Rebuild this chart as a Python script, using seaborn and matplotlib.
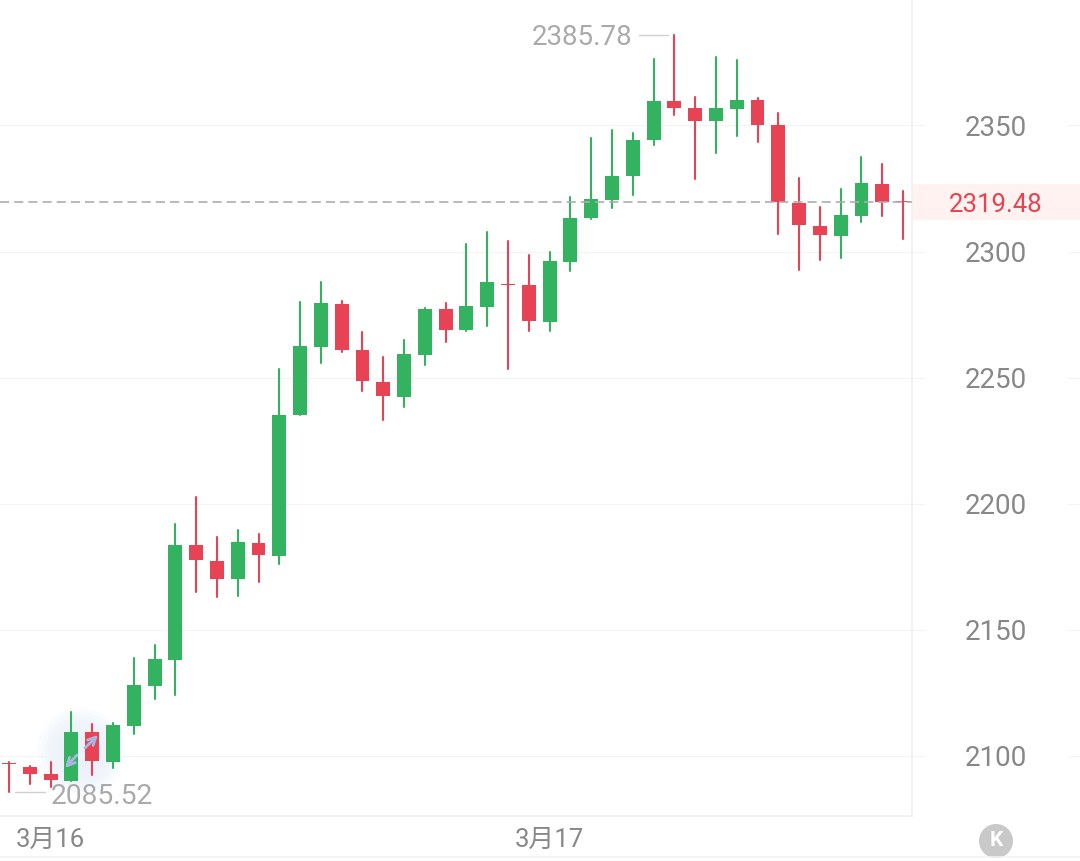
import pandas as pd
import matplotlib.pyplot as plt
import seaborn as sns
from matplotlib.lines import Line2D
from matplotlib.patches import Rectangle, Circle
from matplotlib.transforms import blended_transform_factory

# values
opens = [2097.0, 2095.4, 2092.7, 2089.9, 2109.3, 2097.4, 2111.7, 2127.6, 2137.9, 2183.5, 2177.2,
         2170.0, 2184.3, 2179.2, 2235.1, 2262.1, 2279.2, 2260.9, 2248.2, 2242.3, 2258.9, 2277.2,
         2268.9, 2278.0, 2287.1, 2286.7, 2272.0, 2295.8, 2313.3, 2320.4, 2330.0, 2344.2, 2359.7,
         2356.9, 2351.8, 2356.5, 2360.1, 2350.2, 2319.2, 2310.1, 2306.2, 2314.1, 2326.8, 2319.9]
closes = [2096.6, 2092.7, 2090.3, 2109.3, 2097.8, 2112.1, 2128.0, 2138.3, 2183.5, 2177.6, 2170.0,
          2184.7, 2179.6, 2235.1, 2262.5, 2279.6, 2260.9, 2248.6, 2242.7, 2259.3, 2277.2, 2268.9,
          2278.4, 2287.9, 2286.7, 2272.4, 2296.2, 2313.3, 2320.8, 2330.0, 2344.2, 2359.7, 2356.9,
          2351.8, 2356.9, 2360.1, 2350.2, 2319.6, 2310.5, 2306.6, 2314.5, 2327.2, 2319.6, 2319.48]
highs = [2097.4, 2095.8, 2097.4, 2117.3, 2112.5, 2112.9, 2138.7, 2143.9, 2191.9, 2202.6, 2186.7,
         2189.5, 2187.9, 2253.4, 2280.0, 2287.9, 2280.4, 2268.1, 2258.1, 2264.9, 2277.6, 2279.6,
         2303.0, 2307.7, 2304.2, 2298.6, 2299.8, 2321.6, 2345.0, 2348.2, 2347.0, 2376.4, 2385.78,
         2361.3, 2377.2, 2376.0, 2360.9, 2355.0, 2329.2, 2317.7, 2324.8, 2337.5, 2334.7, 2324.0]
lows = [2085.52, 2088.7, 2087.5, 2089.9, 2092.3, 2095.0, 2108.5, 2122.4, 2124.0, 2164.9, 2162.9,
        2163.3, 2168.9, 2176.0, 2235.1, 2255.8, 2260.1, 2244.6, 2233.1, 2238.3, 2255.0, 2264.1,
        2268.5, 2270.4, 2253.4, 2268.5, 2268.5, 2292.3, 2312.9, 2317.3, 2322.4, 2342.3, 2354.2,
        2328.8, 2339.1, 2345.8, 2343.5, 2306.9, 2292.7, 2296.6, 2297.4, 2311.7, 2314.1, 2305.0]
y_ticks = [2100, 2150, 2200, 2250, 2300, 2350]
date_ticks = [2, 26]
date_labels = ['3月16', '3月17']
last_price = 2319.48
high_label = '2385.78'
low_label = '2085.52'

GREEN = '#33b35f'
RED = '#e84355'
W, H = 1080, 861

df = pd.DataFrame({'idx': range(len(opens)), 'open': opens, 'close': closes,
                   'high': highs, 'low': lows})
df['dir'] = ['up' if c > o else 'down' for o, c in zip(df['open'], df['close'])]
df['body'] = (df['close'] - df['open']).abs()
df['bottom'] = df[['open', 'close']].min(axis=1)
wicks = df.melt(id_vars=['idx', 'dir'], value_vars=['low', 'high'], value_name='price')

sns.set_theme(style='white')
plt.rcParams['font.family'] = ['Roboto', 'Noto Sans CJK SC', 'DejaVu Sans']

fig = plt.figure(figsize=(W / 100, H / 100), dpi=100)
ax = fig.add_axes([0, 1 - 816 / H, 912 / W, 816 / H])

# grid lines run under the price column, with a gap behind the labels
tr = blended_transform_factory(fig.transFigure, ax.transData)
for t in y_ticks:
    for x0, x1 in [(0, 924), (1068, 1080)]:
        fig.add_artist(Line2D([x0 / W, x1 / W], [t, t], transform=tr, color='#f3f3f3', lw=0.8, zorder=0))

# current price band
fig.add_artist(Rectangle((912 / W, 1 - 220 / H), 168 / W, 36 / H, transform=fig.transFigure,
                         color='#fff2f1', lw=0, zorder=0))

sns.lineplot(data=wicks, x='idx', y='price', units='idx', estimator=None, hue='dir',
             palette={'up': GREEN, 'down': RED}, legend=False, linewidth=1.5, ax=ax, zorder=2)

for d, col in [('up', GREEN), ('down', RED)]:
    part = df[df['dir'] == d]
    sns.barplot(x=part['idx'], y=part['body'].values, bottom=part['bottom'].values, native_scale=True,
                color=col, saturation=1, width=0.67, linewidth=0, ax=ax, zorder=3)

ax.axhline(last_price, color='#aeaeae', lw=1.2, dashes=(5.5, 3), zorder=4)

ax.set_xlim(-0.433, 43.43)
ax.set_ylim(2076.0, 2399.8)
ax.set_xlabel('')
ax.set_ylabel('')
ax.patch.set_alpha(0)
ax.set_xticks(date_ticks)
ax.set_xticklabels(date_labels, fontsize=18.5, color='#888888')
ax.yaxis.tick_right()
ax.set_yticks(y_ticks)
ax.set_yticklabels(y_ticks, fontsize=20, color='#888888', ha='center')
ax.tick_params(axis='x', length=0, pad=8.5)
ax.tick_params(axis='y', length=0, pad=60.5)
for s in ['top', 'left']:
    ax.spines[s].set_visible(False)
for s in ['right', 'bottom']:
    ax.spines[s].set_color('#f2f2f2')
    ax.spines[s].set_linewidth(1.4)

# high and low markers
ax.plot([30.3, 31.7], [highs[32], highs[32]], color='#d0d0d0', lw=1, zorder=2)
ax.annotate(high_label, xy=(29.97, highs[32]), xytext=(0, -1.5), textcoords='offset points',
            ha='right', va='center', fontsize=20, color='#aaaaaa')
ax.plot([0.29, 1.73], [lows[0], lows[0]], color='#d0d0d0', lw=1, zorder=2)
ax.annotate(low_label, xy=(2.03, lows[0]), xytext=(0, -3), textcoords='offset points',
            ha='left', va='center', fontsize=20.3, color='#aaaaaa', zorder=5)

# price label on the band
fig.text(996 / W, 1 - 205 / H, f'{last_price:.2f}', ha='center', va='center', fontsize=18.5, color='#e8414f')

# expand icon, the soft halo sits behind the candles
for r in [44, 40, 36, 32, 28, 24, 20, 16]:
    fig.add_artist(Circle((81, H - 752), r, transform=None, color='#e6effa', alpha=0.16, lw=0, zorder=-1))
for tail, tip in [((77, 755), (65, 768)), ((85, 748), (98, 735))]:
    ax.annotate('', xy=(tip[0], H - tip[1]), xytext=(tail[0], H - tail[1]), xycoords='figure pixels',
                textcoords='figure pixels', zorder=7,
                arrowprops=dict(arrowstyle='->', color='#a8b8e0', lw=2, mutation_scale=14, shrinkA=0, shrinkB=0))

# footer rule and the jump-to-latest button
fig.add_artist(Line2D([0, 1], [1 - 857 / H, 1 - 857 / H], color='#f2f2f2', lw=1.2))
fig.add_artist(Circle((996, H - 841), 17, transform=None, color='#c9c9c9', lw=0))
fig.text(996 / W, 1 - 841 / H, 'K', ha='center', va='center', fontsize=15, fontweight='bold', color='white')

fig.savefig('out.png', dpi=100)
